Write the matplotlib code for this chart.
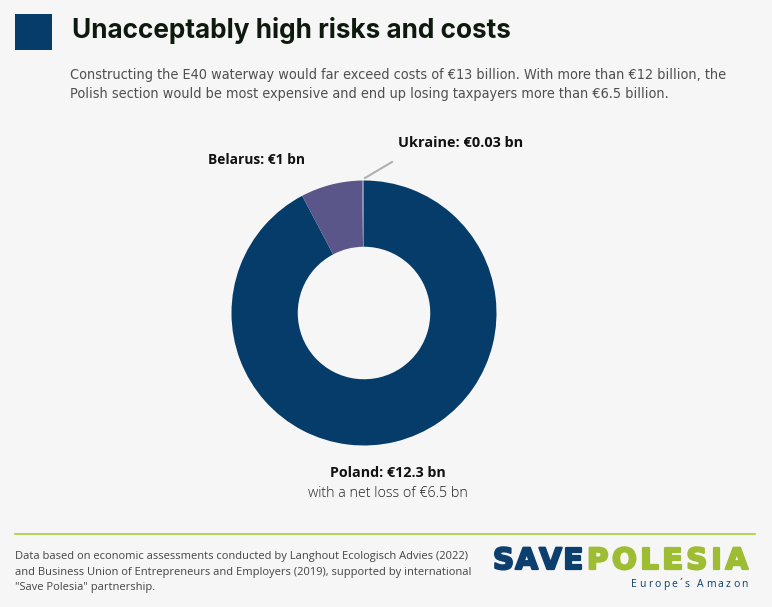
import matplotlib.pyplot as plt
import matplotlib.patheffects as pe
from matplotlib.patches import Rectangle

# data
countries = ['Poland', 'Belarus', 'Ukraine']
costs_bn = [12.3, 1.0, 0.03]
colors = ['#063c69', '#5a568a', '#8c80b4']

W, H = 772, 607
BG = '#f6f6f6'

fig = plt.figure(figsize=(W / 100, H / 100), dpi=100, facecolor=BG)
renderer = fig.canvas.get_renderer()


def px(x, y):
    return x / W, 1 - y / H


def fit_text(x, y, s, width, size, **kw):
    # draw a text and scale its size so it spans about `width` pixels
    t = fig.text(*px(x, y), s, fontsize=size, va='baseline', **kw)
    w = t.get_window_extent(renderer).width
    t.set_fontsize(size * width / w)
    return t


def spaced_text(x0, x1, y, s, size, **kw):
    # letters spread evenly between x0 and x1 (letter-spaced logo words)
    ts = [fig.text(*px(x0, y), c, fontsize=size, va='baseline', **kw) for c in s]
    ws = [t.get_window_extent(renderer).width for t in ts]
    gap = (x1 - x0 - sum(ws)) / max(len(s) - 1, 1)
    x = x0
    for t, w in zip(ts, ws):
        t.set_position(px(x, y))
        x += w + gap


# header
fig.patches.append(Rectangle(px(15, 50), 37 / W, 36 / H, transform=fig.transFigure,
                             facecolor='#063c69', edgecolor='none'))
fit_text(72, 38, 'Unacceptably high risks and costs', 439, 19, fontweight='bold',
         family='Inter', color='#0e1a0e')
sub = dict(family='DejaVu Sans', fontstretch='condensed', color='#505050')
fit_text(70, 79, 'Constructing the E40 waterway would far exceed costs of €13 billion. '
         'With more than €12 billion, the', 661, 10.5, **sub)
fit_text(70, 98, 'Polish section would be most expensive and end up losing taxpayers '
         'more than €6.5 billion.', 605, 10.5, **sub)

# donut
cx, cy, R = 364, 313, 132.5
ax = fig.add_axes([(cx - R) / W, 1 - (cy + R) / H, 2 * R / W, 2 * R / H])
ax.pie(costs_bn, colors=colors, startangle=90, counterclock=False, radius=1,
       wedgeprops=dict(width=0.5, edgecolor='none'))
ax.set_xlim(-1, 1)
ax.set_ylim(-1, 1)
ax.set_aspect('equal')
ax.axis('off')

# labels
lab = dict(fontweight='bold', family='Open Sans', color='#111111')
fit_text(398, 147, f'{countries[2]}: €{costs_bn[2]:g} bn', 125, 10, **lab)
fit_text(208, 164, f'{countries[1]}: €{costs_bn[1]:g} bn', 97, 10, **lab)
fit_text(388, 477, f'{countries[0]}: €{costs_bn[0]:g} bn', 116, 10, ha='center', **lab)
fit_text(388, 497, 'with a net loss of €6.5 bn', 160, 10, ha='center',
         family='Open Sans', fontweight='light', color='#222222')
fig.add_artist(plt.Line2D([365 / W, 392 / W], [1 - 178 / H, 1 - 162 / H], color='#b0b0b0', lw=1.5))

# footer
fig.add_artist(plt.Line2D([15 / W, 755 / W], [1 - 534 / H, 1 - 534 / H], color='#a6cf3b', lw=1.2))
foot = ['Data based on economic assessments conducted by Langhout Ecologisch Advies (2022)',
        'and Business Union of Entrepreneurs and Employers (2019), supported by international',
        '"Save Polesia" partnership.']
for i, line in enumerate(foot):
    fig.text(*px(15, 559 + i * 15.5), line, fontsize=8.0, family='Open Sans', color='#444444',
             va='baseline')

# logo (stroke thickens the letters a bit)
blue, green = '#0d3f6e', '#9fbd32'
spaced_text(493, 583, 569, 'SAVE', 21, color=blue, fontweight='bold', family='DejaVu Sans',
            path_effects=[pe.withStroke(linewidth=1.6, foreground=blue)])
spaced_text(587, 748, 569, 'POLESIA', 21, color=green, fontweight='bold', family='DejaVu Sans',
            path_effects=[pe.withStroke(linewidth=1.6, foreground=green)])
spaced_text(631, 748, 587, 'Europe´s Amazon', 7.5, family='Open Sans', color=blue)

fig.savefig('out.png', dpi=100, facecolor=BG)
